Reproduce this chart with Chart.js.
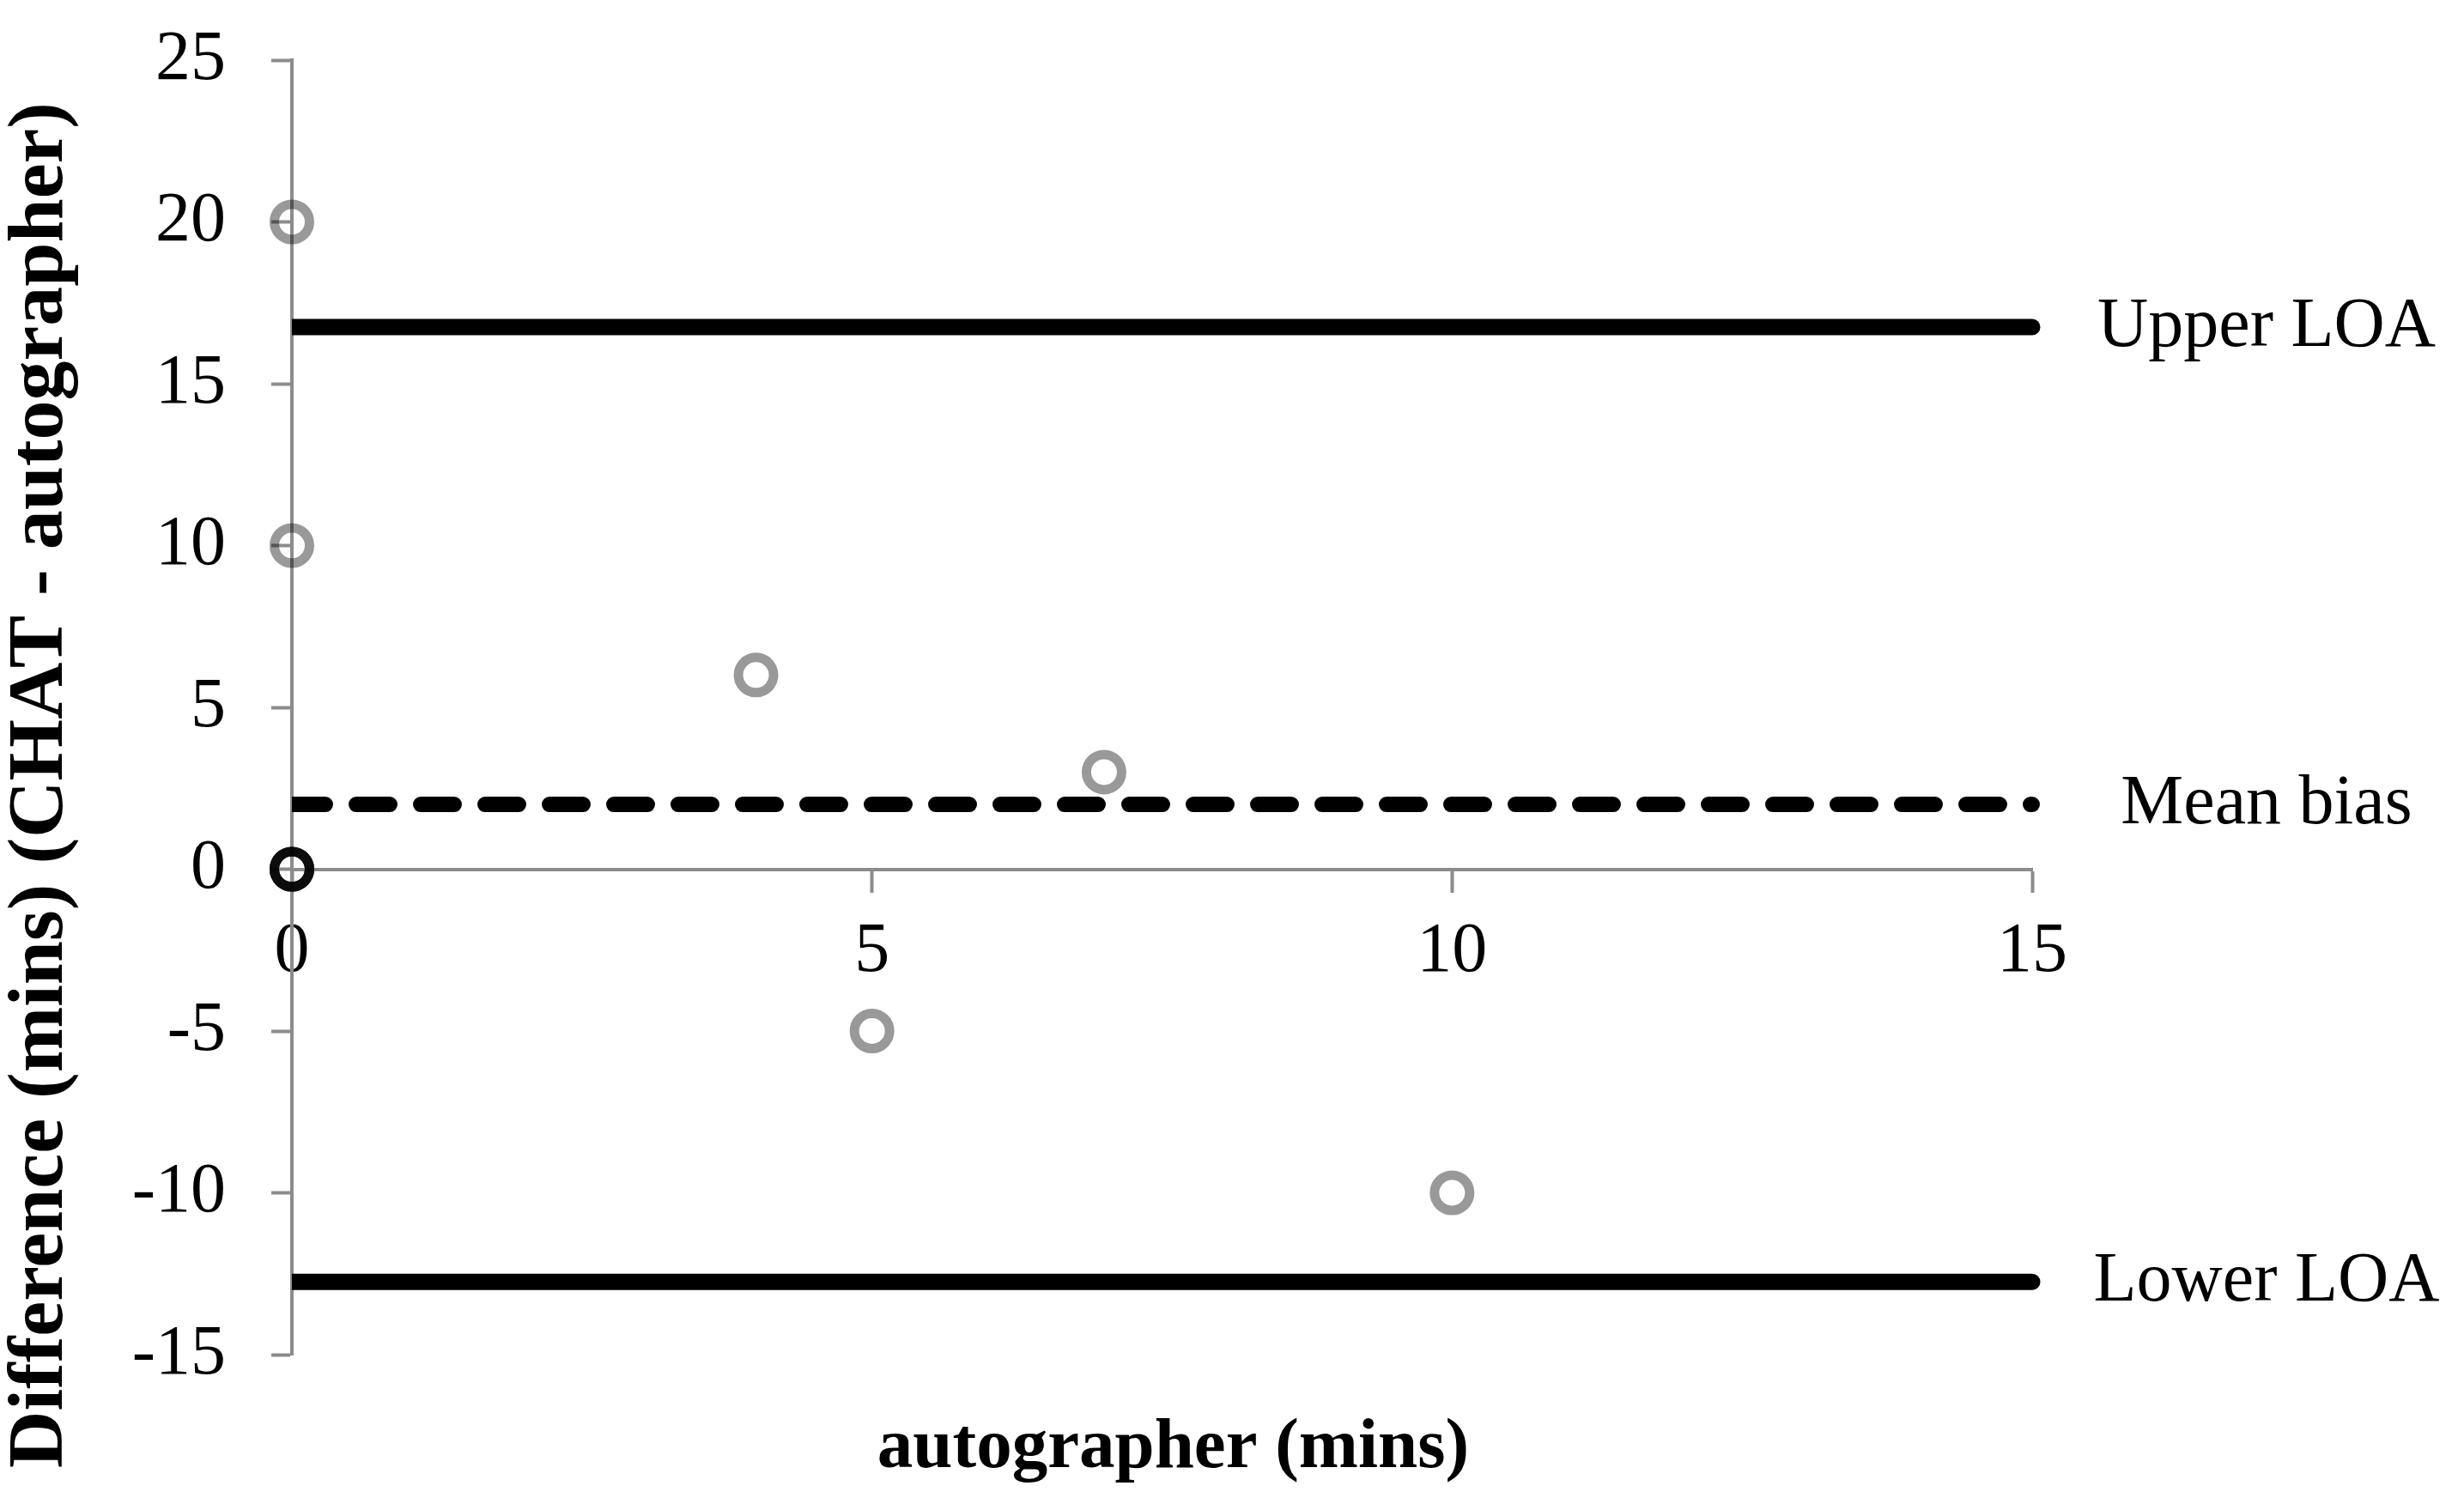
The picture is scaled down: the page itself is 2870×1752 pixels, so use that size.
<!DOCTYPE html>
<html>
<head>
<meta charset="utf-8">
<script src="https://cdn.jsdelivr.net/npm/chart.js@4/dist/chart.umd.min.js"></script>
<style>
html,body{margin:0;padding:0;background:#fff;overflow:hidden}
#wrap{width:2870px;height:1752px;position:relative;background:#fff}
</style>
</head>
<body>
<div id="wrap"><canvas id="c" width="2870" height="1752"></canvas></div>
<script>
// ---- data ----
const autographerMins = [0, 0, 4, 7, 5, 10];
const differenceMins  = [20, 10, 6, 3, -5, -10];
const zeroPairsX = [0, 0, 0, 0, 0, 0];
const zeroPairsY = [0, 0, 0, 0, 0, 0];
const meanBias = 2;
const upperLOA = 16.75;
const lowerLOA = -12.75;
const xRange = [0, 15];
const yRange = [-15, 25];
const tickStep = 5;
const lineLabels = ['Upper LOA', 'Mean bias', 'Lower LOA'];
const xTitle = 'autographer (mins)';
const yTitle = 'Difference (mins) (CHAT - autographer)';

// ---- styles ----
const FAMILY = '"Liberation Serif", "Times New Roman", serif';
const AXIS_GRAY = '#8c8c8c';
const POINT_COLOR = 'rgba(0,0,0,0.4)';

const toPoints = (xs, ys) => xs.map((x, i) => ({x: x, y: ys[i]}));
const hLine = v => [{x: xRange[0], y: v}, {x: xRange[1], y: v}];

const lineBase = {
  type: 'line', showLine: true, pointRadius: 0, borderColor: '#000',
  borderWidth: 19, borderCapStyle: 'round', fill: false,
  clip: {left: 0, top: false, right: 12, bottom: false}
};

const datasets = [
  Object.assign({}, lineBase, {label: lineLabels[0], data: hLine(upperLOA), refValue: upperLOA}),
  Object.assign({}, lineBase, {label: lineLabels[1], data: hLine(meanBias), refValue: meanBias,
    borderDash: [39, 36], borderWidth: 18}),
  Object.assign({}, lineBase, {label: lineLabels[2], data: hLine(lowerLOA), refValue: lowerLOA}),
  {type: 'scatter', label: 'differences', data: toPoints(autographerMins, differenceMins),
   pointRadius: 20.5, pointBorderWidth: 11, pointBorderColor: POINT_COLOR,
   pointBackgroundColor: 'rgba(0,0,0,0)', clip: false},
  {type: 'scatter', label: 'zero pairs', data: toPoints(zeroPairsX, zeroPairsY),
   pointRadius: 20.5, pointBorderWidth: 11, pointBorderColor: POINT_COLOR,
   pointBackgroundColor: 'rgba(0,0,0,0)', clip: false}
];

const lineLabelPlugin = {
  id: 'lineLabels',
  afterDatasetsDraw(chart) {
    const ctx = chart.ctx;
    const y = chart.scales.y;
    const xPix = chart.chartArea.right + 273;
    ctx.save();
    ctx.font = '82px ' + FAMILY;
    ctx.fillStyle = '#000';
    ctx.textAlign = 'center';
    ctx.textBaseline = 'middle';
    chart.data.datasets.forEach(ds => {
      if (ds.refValue === undefined) return;
      ctx.fillText(ds.label, xPix, y.getPixelForValue(ds.refValue));
    });
    ctx.restore();
  }
};

// nudge the x-axis title slightly right of the plot centre, as in the original
const xTitleShift = {
  id: 'xTitleShift',
  afterLayout(chart) { chart.scales.x2.left += 26; }
};

// y-axis title (drawn slightly below the plot centre, as in the original)
const yTitlePlugin = {
  id: 'yTitle',
  afterDraw(chart) {
    const ctx = chart.ctx;
    const y = chart.scales.y;
    const b = y.getPixelForValue(yRange[0]);
    const t = y.getPixelForValue(yRange[1]);
    const cy = b - 0.44 * (b - t);
    ctx.save();
    ctx.translate(48, cy);
    ctx.rotate(-Math.PI / 2);
    ctx.font = 'bold 92px ' + FAMILY;
    ctx.fillStyle = '#000';
    ctx.textAlign = 'center';
    ctx.textBaseline = 'middle';
    ctx.fillText(yTitle, 0, 0);
    ctx.restore();
  }
};

new Chart(document.getElementById('c'), {
  data: {datasets: datasets},
  plugins: [lineLabelPlugin, xTitleShift, yTitlePlugin],
  options: {
    responsive: false,
    animation: false,
    devicePixelRatio: 1,
    events: [],
    layout: {padding: {top: 70, right: 503, bottom: 0, left: 0}},
    plugins: {legend: {display: false}, tooltip: {enabled: false}},
    scales: {
      x: {
        type: 'linear', position: {y: 0}, min: xRange[0], max: xRange[1],
        ticks: {stepSize: tickStep, color: '#000', padding: 23, maxRotation: 0,
                font: {family: FAMILY, size: 82}},
        grid: {display: true, drawOnChartArea: false, drawTicks: true, tickLength: 25,
               tickWidth: 4, tickColor: AXIS_GRAY, color: AXIS_GRAY},
        border: {display: true, color: AXIS_GRAY, width: 4},
        afterFit(s) { s.height = 0; }
      },
      x2: {
        type: 'linear', position: 'bottom', min: xRange[0], max: xRange[1],
        ticks: {display: false},
        grid: {display: false, drawTicks: false},
        border: {display: false},
        title: {display: true, text: xTitle, color: '#000',
                font: {family: FAMILY, size: 83, weight: 'bold'},
                padding: {top: 0, bottom: 15}},
        afterFit(s) { s.height = 174; }
      },
      y: {
        type: 'linear', position: 'left', min: yRange[0], max: yRange[1],
        ticks: {stepSize: tickStep, color: '#000', padding: 53,
                font: {family: FAMILY, size: 82}},
        grid: {display: true, drawOnChartArea: false, drawTicks: true, tickLength: 24,
               tickWidth: 4, tickColor: AXIS_GRAY, color: AXIS_GRAY},
        border: {display: true, color: AXIS_GRAY, width: 4},
        title: {display: false, text: yTitle},
        afterFit(s) { s.width = 340; s.paddingTop = 0; s.paddingBottom = 0; }
      }
    }
  }
});
</script>
</body>
</html>
